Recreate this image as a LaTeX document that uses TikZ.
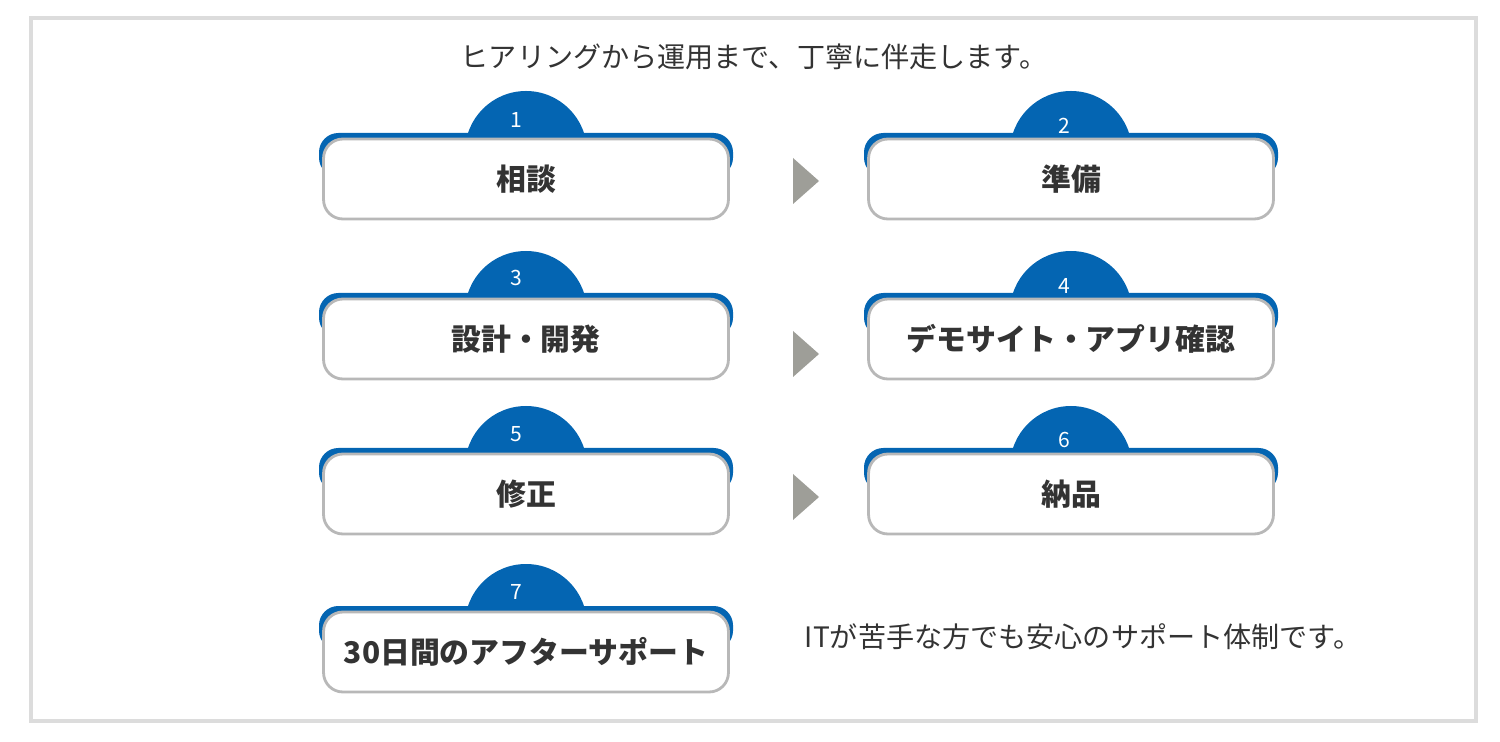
\documentclass[tikz,border=0pt]{standalone}
\usepackage{fontspec}
\setmainfont{Noto Sans CJK JP}
\usetikzlibrary{positioning}
\definecolor{tabblue}{HTML}{0465B2}
\definecolor{boxgray}{HTML}{B8B8B8}
\definecolor{framegray}{HTML}{DCDCDC}
\definecolor{arrgray}{HTML}{9E9E98}
\definecolor{txt}{HTML}{333333}
\tikzset{
  stage/.style={shape=rectangle,rounded corners=11pt,draw=boxgray,line width=1.6pt,
               fill=white,minimum width=8.1cm,minimum height=1.6cm,
               font=\bfseries\fontsize{17}{17}\selectfont,text=txt},
  strip/.style={fill=tabblue,rounded corners=11pt},
  num/.style={text=white,font=\fontsize{12}{12}\selectfont},
  go/.style={fill=arrgray}
}
\newcommand{\stagebox}[4]{% name, x, y(top), label
  \fill[tabblue] (#2,#3+15) circle (61*0.02cm);
  \fill[strip] (#2-207,#3-4) rectangle (#2+207,#3+40);
  \path node (#1) at (#2,#3+42) [stage] {#4};
}
\begin{document}
\begin{tikzpicture}[x=0.02cm,y=-0.02cm]
  \useasboundingbox (0,0) rectangle (1500,742);
  \draw[framegray,line width=2.5pt] (31,18) rectangle (1476,721);

  \path node (title) at (754,57) [text=txt,font=\fontsize{16}{16}\selectfont]
        {ヒアリングから運用まで、丁寧に伴走します。};

  \stagebox{s1}{526}{137}{相談}
  \stagebox{s2}{1071}{137}{準備}
  \stagebox{s3}{526}{297}{設計・開発}
  \stagebox{s4}{1071}{297}{デモサイト・アプリ確認}
  \stagebox{s5}{526}{452}{修正}
  \stagebox{s6}{1071}{452}{納品}
  \stagebox{s7}{526}{610}{30日間のアフターサポート}

  \path node at (516,120) [num] {1};
  \path node at (1064,126) [num] {2};
  \path node at (516,278) [num] {3};
  \path node at (1064,286) [num] {4};
  \path node at (516,434) [num] {5};
  \path node at (1064,440) [num] {6};
  \path node at (516,592) [num] {7};

  \fill[go] (793,158) -- (819,181) -- (793,204) -- cycle;
  \fill[go] (793,331) -- (819,354) -- (793,377) -- cycle;
  \fill[go] (793,474) -- (819,497) -- (793,520) -- cycle;

  \path node (note) at (1083,637) [text=txt,font=\fontsize{16}{16}\selectfont]
        {ITが苦手な方でも安心のサポート体制です。};
\end{tikzpicture}
\end{document}
